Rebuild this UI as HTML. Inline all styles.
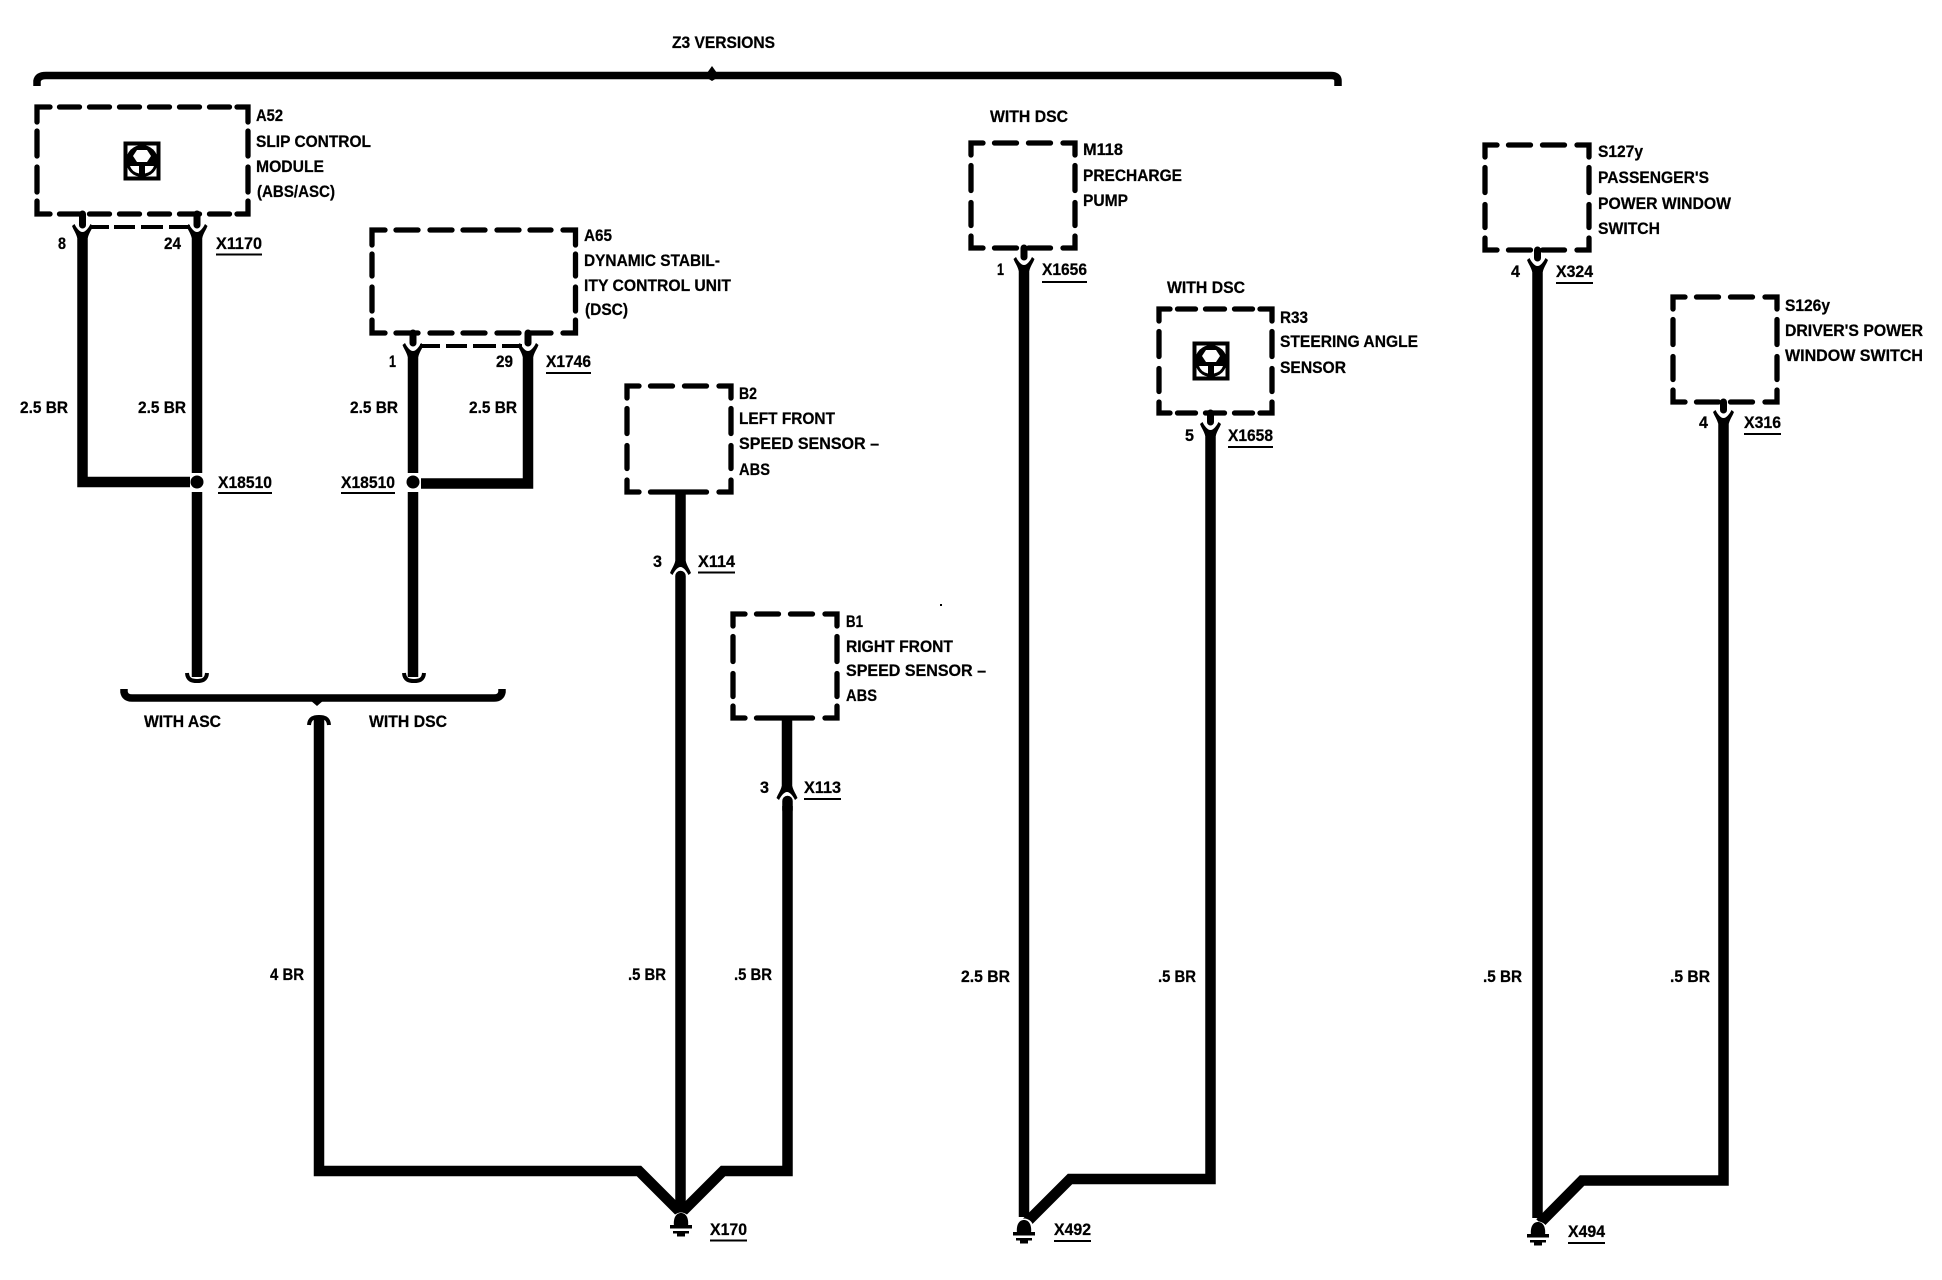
<!DOCTYPE html>
<html><head><meta charset="utf-8"><style>
html,body{margin:0;padding:0;background:#fff;width:1942px;height:1280px;overflow:hidden}
svg{display:block}
text{font-family:"Liberation Sans",sans-serif;font-weight:bold;font-size:17px;fill:#000;stroke:#000;stroke-width:.25}
.d{fill:none;stroke:#000;stroke-width:5.3;stroke-linecap:round;stroke-linejoin:miter}
.s{fill:none;stroke:#000;stroke-width:4}
.w{fill:none;stroke:#000;stroke-width:10.5;stroke-linejoin:miter}
.u{stroke:#000;stroke-width:2}
</style></head><body>
<svg width="1942" height="1280" viewBox="0 0 1942 1280" xmlns="http://www.w3.org/2000/svg">
<defs>
<path id="fork" d="M-10.5,-1 C-9,3 -7,5 -5.2,11 H5.2 C7,5 9,3 10.5,-1 L8,-3 C6,1 3,5 0,5 C-3,5 -6,1 -8,-3 Z"/>
<path id="tail" d="M-10,-7 C-9.5,0 -5,1 0,1 C5,1 9.5,0 10,-7" fill="none" stroke="#000" stroke-width="4"/>
<g id="wheel">
<rect x="-16.5" y="-17.5" width="33" height="35" fill="#fff" stroke="#000" stroke-width="4"/>
<circle cx="0" cy="0" r="16"/>
<path d="M-9,-5 L-5,-11 H5 L9,-5 L5,1 H-5Z" fill="#fff"/>
<path d="M-12,5 H-3 V12.5 Q-10,11 -12,5Z M12,5 H3 V12.5 Q10,11 12,5Z" fill="#fff"/>
</g>
<g id="gnd">
<path d="M-7,13 C-8,5 -5,0 0,0 C5,0 8,5 7,13Z" fill="#000"/>
<rect x="-11" y="12" width="22" height="3.5"/>
<rect x="-8" y="18" width="16" height="2.5"/>
<rect x="-4" y="20.5" width="8" height="3"/>
</g>
</defs>

<!-- top brace -->
<path d="M37,86 V81 Q38,75.500 46,75.500 H1331 Q1338,75.500 1338,81 V86" fill="none" stroke="#000" stroke-width="7.500"/>
<polygon points="707,73 712,66 717,73"/>
<polygon points="707,78 712,81 717,78"/>
<text x="672" y="48" textLength="103" lengthAdjust="spacingAndGlyphs">Z3 VERSIONS</text>

<!-- A52 -->
<path class="d" d="M37,122V107H50 M59.500,107H79.500 M89.500,107H109.500 M119.500,107H139.500 M149.500,107H169.500 M179.500,107H199.500 M209.500,107H229.500 M237,107H248V122
M248,131V156 M248,167V192 M248,201V214H237 M229.500,214H209.500 M199.500,214H179.500 M169.500,214H149.500 M139.500,214H119.500 M109.500,214H89.500 M79.500,214H59.500 M50,214H37V201 M37,192V167 M37,156V131"/>
<use href="#wheel" x="142" y="161"/>
<text x="256" y="121" textLength="27" lengthAdjust="spacingAndGlyphs">A52</text>
<text x="256" y="147" textLength="115" lengthAdjust="spacingAndGlyphs">SLIP CONTROL</text>
<text x="256" y="172" textLength="68" lengthAdjust="spacingAndGlyphs">MODULE</text>
<text x="257" y="197" textLength="78" lengthAdjust="spacingAndGlyphs">(ABS/ASC)</text>
<path d="M82.5,214V225 M197,214V225" stroke="#000" stroke-width="7" fill="none" stroke-linecap="round"/>
<path class="s" d="M90,227H109 M114,227H135 M141,227H163 M169,227H190"/>
<use href="#fork" x="82.5" y="227"/><use href="#fork" x="197" y="227"/>
<path class="w" d="M82.5,235 V482 H190"/>
<path class="w" d="M197,235 V473"/>
<circle cx="197" cy="482" r="6.5"/>
<path class="w" d="M197,492 V677"/>
<use href="#tail" x="197" y="680"/>
<text x="58" y="249" textLength="8" lengthAdjust="spacingAndGlyphs">8</text>
<text x="164" y="249" textLength="17" lengthAdjust="spacingAndGlyphs">24</text>
<text x="216" y="249" textLength="46" lengthAdjust="spacingAndGlyphs">X1170</text>
<line class="u" x1="216" y1="254.5" x2="262" y2="254.5"/>
<text x="20" y="413" textLength="48" lengthAdjust="spacingAndGlyphs">2.5 BR</text>
<text x="138" y="413" textLength="48" lengthAdjust="spacingAndGlyphs">2.5 BR</text>
<text x="218" y="488" textLength="54" lengthAdjust="spacingAndGlyphs">X18510</text>
<line class="u" x1="218" y1="493" x2="272" y2="493"/>

<!-- A65 -->
<path class="d" d="M372,245V230H385 M396,230H418 M430,230H452 M463,230H485 M497,230H519 M530,230H551 M563,230H575.5V245
M575.5,254V276 M575.5,287V311 M575.5,320V333H563 M551,333H530 M519,333H497 M485,333H463 M452,333H430 M418,333H396 M385,333H372V320 M372,311V287 M372,276V254"/>
<text x="584" y="241" textLength="28" lengthAdjust="spacingAndGlyphs">A65</text>
<text x="584" y="266" textLength="136" lengthAdjust="spacingAndGlyphs">DYNAMIC STABIL-</text>
<text x="584" y="291" textLength="147" lengthAdjust="spacingAndGlyphs">ITY CONTROL UNIT</text>
<text x="585" y="315" textLength="43" lengthAdjust="spacingAndGlyphs">(DSC)</text>
<path d="M413,333V343 M528,333V343" stroke="#000" stroke-width="7" fill="none" stroke-linecap="round"/>
<path class="s" d="M420,346H440 M446,346H467 M473,346H496 M502,346H522"/>
<use href="#fork" x="413" y="346"/><use href="#fork" x="528" y="346"/>
<path class="w" d="M413,354 V473"/>
<circle cx="413" cy="482" r="6.5"/>
<path class="w" d="M413,492 V677"/>
<use href="#tail" x="414" y="680"/>
<path class="w" d="M528,354 V483.5 H421"/>
<text x="389" y="367" textLength="7" lengthAdjust="spacingAndGlyphs">1</text>
<text x="496" y="367" textLength="17" lengthAdjust="spacingAndGlyphs">29</text>
<text x="546" y="367" textLength="45" lengthAdjust="spacingAndGlyphs">X1746</text>
<line class="u" x1="546" y1="373" x2="591" y2="373"/>
<text x="350" y="413" textLength="48" lengthAdjust="spacingAndGlyphs">2.5 BR</text>
<text x="469" y="413" textLength="48" lengthAdjust="spacingAndGlyphs">2.5 BR</text>
<text x="341" y="488" textLength="54" lengthAdjust="spacingAndGlyphs">X18510</text>
<line class="u" x1="341" y1="493" x2="395" y2="493"/>

<!-- lower brace -->
<path d="M124,689 V692 Q125,698 132,698 H494 Q501,698 502,692 V689" fill="none" stroke="#000" stroke-width="7.500"/>
<polygon points="310,700 324,700 317,706"/>
<text x="144" y="727" textLength="77" lengthAdjust="spacingAndGlyphs">WITH ASC</text>
<text x="369" y="727" textLength="78" lengthAdjust="spacingAndGlyphs">WITH DSC</text>
<use href="#tail" transform="translate(319,718) scale(1,-1)"/>

<!-- bottom left wiring -->
<path class="w" d="M319,718 V1171 H639 L681,1213"/>
<path class="w" d="M787.5,806 V1171 H723 L681,1213"/>
<path class="w" stroke-linecap="round" d="M787.5,801 V810"/>
<text x="270" y="980" textLength="34" lengthAdjust="spacingAndGlyphs">4 BR</text>
<text x="628" y="980" textLength="38" lengthAdjust="spacingAndGlyphs">.5 BR</text>
<text x="734" y="980" textLength="38" lengthAdjust="spacingAndGlyphs">.5 BR</text>

<!-- B2 -->
<path class="d" d="M627,398V386H639 M650.5,386H672.5 M684.5,386H706.5 M719,386H731V398 M731,408.5V433.5 M731,445.5V468.5 M731,480V492H719 M706.5,492H650.5 M639,492H627V480 M627,468.5V445.5 M627,433.5V408.5"/>
<text x="739" y="399" textLength="18" lengthAdjust="spacingAndGlyphs">B2</text>
<text x="739" y="424" textLength="96" lengthAdjust="spacingAndGlyphs">LEFT FRONT</text>
<text x="739" y="449" textLength="140" lengthAdjust="spacingAndGlyphs">SPEED SENSOR –</text>
<text x="739" y="475" textLength="31" lengthAdjust="spacingAndGlyphs">ABS</text>
<path class="w" d="M680.5,492 V562"/>
<use href="#fork" transform="translate(680.5,572) scale(1,-1)"/>
<path class="w" stroke-linecap="round" d="M680.5,576 V1212"/>
<text x="653" y="567" textLength="9" lengthAdjust="spacingAndGlyphs">3</text>
<text x="698" y="567" textLength="37" lengthAdjust="spacingAndGlyphs">X114</text>
<line class="u" x1="698" y1="572.5" x2="735" y2="572.5"/>

<!-- B1 -->
<path class="d" d="M733,626V614H745 M756.5,614H778.5 M790.5,614H812.5 M825,614H837V626 M837,636.5V661.5 M837,673.5V696.5 M837,706V718H825 M812.5,718H756.5 M745,718H733V706 M733,696.5V673.5 M733,661.5V636.5"/>
<text x="846" y="627" textLength="17" lengthAdjust="spacingAndGlyphs">B1</text>
<text x="846" y="652" textLength="107" lengthAdjust="spacingAndGlyphs">RIGHT FRONT</text>
<text x="846" y="676" textLength="140" lengthAdjust="spacingAndGlyphs">SPEED SENSOR –</text>
<text x="846" y="701" textLength="31" lengthAdjust="spacingAndGlyphs">ABS</text>
<path class="w" d="M787,718 V787"/>
<use href="#fork" transform="translate(787,797) scale(1,-1)"/>
<text x="760" y="793" textLength="9" lengthAdjust="spacingAndGlyphs">3</text>
<text x="804" y="793" textLength="37" lengthAdjust="spacingAndGlyphs">X113</text>
<line class="u" x1="804" y1="799" x2="841" y2="799"/>
<!-- ground X170 -->
<circle cx="681" cy="1222" r="9.5" fill="#fff"/>
<use href="#gnd" x="681" y="1213"/>
<text x="710" y="1235" textLength="37" lengthAdjust="spacingAndGlyphs">X170</text>
<line class="u" x1="710" y1="1240.5" x2="747" y2="1240.5"/>

<!-- M118 -->
<text x="990" y="122" textLength="78" lengthAdjust="spacingAndGlyphs">WITH DSC</text>
<path class="d" d="M971,155V143H983 M994.5,143H1016.5 M1028.5,143H1050.5 M1063,143H1075V155 M1075,165.5V190.5 M1075,202.5V225.5 M1075,236V248H1063 M1050.5,248H1028.5 M1016.5,248H994.5 M983,248H971V236 M971,225.5V202.5 M971,190.5V165.5"/>
<text x="1083" y="155" textLength="40" lengthAdjust="spacingAndGlyphs">M118</text>
<text x="1083" y="181" textLength="99" lengthAdjust="spacingAndGlyphs">PRECHARGE</text>
<text x="1083" y="206" textLength="45" lengthAdjust="spacingAndGlyphs">PUMP</text>
<path d="M1024,248V257" stroke="#000" stroke-width="7" fill="none" stroke-linecap="round"/>
<use href="#fork" x="1024" y="260"/>
<path class="w" d="M1024,268 V1217"/>
<path class="w" d="M1210.5,432 V1179 H1070 L1026,1223"/>
<text x="997" y="275" textLength="7" lengthAdjust="spacingAndGlyphs">1</text>
<text x="1042" y="275" textLength="45" lengthAdjust="spacingAndGlyphs">X1656</text>
<line class="u" x1="1042" y1="282" x2="1087" y2="282"/>
<text x="961" y="982" textLength="49" lengthAdjust="spacingAndGlyphs">2.5 BR</text>
<text x="1158" y="982" textLength="38" lengthAdjust="spacingAndGlyphs">.5 BR</text>
<circle cx="1024" cy="1228" r="9.5" fill="#fff"/>
<use href="#gnd" x="1024" y="1220"/>
<text x="1054" y="1235" textLength="37" lengthAdjust="spacingAndGlyphs">X492</text>
<line class="u" x1="1054" y1="1241" x2="1091" y2="1241"/>

<!-- R33 -->
<text x="1167" y="293" textLength="78" lengthAdjust="spacingAndGlyphs">WITH DSC</text>
<path class="d" d="M1159,321V309H1170 M1177.5,309H1195.5 M1205.5,309H1224.5 M1234.5,309H1252.5 M1260,309H1272V321 M1272,331.5V356.5 M1272,368.5V391.5 M1272,402V413H1260 M1252.5,413H1234.5 M1224.5,413H1205.5 M1195.5,413H1177.5 M1170,413H1159V402 M1159,391.5V368.5 M1159,356.5V331.5"/>
<use href="#wheel" x="1211" y="361"/>
<text x="1280" y="323" textLength="28" lengthAdjust="spacingAndGlyphs">R33</text>
<text x="1280" y="347" textLength="138" lengthAdjust="spacingAndGlyphs">STEERING ANGLE</text>
<text x="1280" y="373" textLength="66" lengthAdjust="spacingAndGlyphs">SENSOR</text>
<path d="M1210.5,413V422" stroke="#000" stroke-width="7" fill="none" stroke-linecap="round"/>
<use href="#fork" x="1210.5" y="425"/>
<text x="1185" y="441" textLength="9" lengthAdjust="spacingAndGlyphs">5</text>
<text x="1228" y="441" textLength="45" lengthAdjust="spacingAndGlyphs">X1658</text>
<line class="u" x1="1228" y1="447" x2="1273" y2="447"/>

<!-- S127y -->
<path class="d" d="M1485,157V145H1497 M1508.5,145H1530.5 M1542.5,145H1564.5 M1577,145H1589V157 M1589,167.5V192.5 M1589,204.5V227.5 M1589,238V250H1577 M1564.5,250H1542.5 M1530.5,250H1508.5 M1497,250H1485V238 M1485,227.5V204.5 M1485,192.5V167.5"/>
<text x="1598" y="157" textLength="45" lengthAdjust="spacingAndGlyphs">S127y</text>
<text x="1598" y="183" textLength="111" lengthAdjust="spacingAndGlyphs">PASSENGER'S</text>
<text x="1598" y="209" textLength="133" lengthAdjust="spacingAndGlyphs">POWER WINDOW</text>
<text x="1598" y="234" textLength="62" lengthAdjust="spacingAndGlyphs">SWITCH</text>
<path d="M1537.5,250V258" stroke="#000" stroke-width="7" fill="none" stroke-linecap="round"/>
<use href="#fork" x="1537.5" y="261"/>
<path class="w" d="M1537.5,269 V1218"/>
<path class="w" d="M1723.5,424 V1180.5 H1582 L1540,1223"/>
<text x="1511" y="277" textLength="9" lengthAdjust="spacingAndGlyphs">4</text>
<text x="1556" y="277" textLength="37" lengthAdjust="spacingAndGlyphs">X324</text>
<line class="u" x1="1556" y1="283" x2="1593" y2="283"/>
<text x="1483" y="982" textLength="39" lengthAdjust="spacingAndGlyphs">.5 BR</text>
<text x="1670" y="982" textLength="40" lengthAdjust="spacingAndGlyphs">.5 BR</text>
<circle cx="1538" cy="1231" r="9.5" fill="#fff"/>
<use href="#gnd" x="1538" y="1222"/>
<text x="1568" y="1237" textLength="37" lengthAdjust="spacingAndGlyphs">X494</text>
<line class="u" x1="1568" y1="1243" x2="1605" y2="1243"/>

<!-- S126y -->
<path class="d" d="M1673,309V297H1685 M1696.5,297H1718.5 M1730.5,297H1752.5 M1765,297H1777V309 M1777,319.5V344.5 M1777,356.5V379.5 M1777,390V402H1765 M1752.5,402H1730.5 M1718.5,402H1696.5 M1685,402H1673V390 M1673,379.5V356.5 M1673,344.5V319.5"/>
<text x="1785" y="311" textLength="45" lengthAdjust="spacingAndGlyphs">S126y</text>
<text x="1785" y="336" textLength="138" lengthAdjust="spacingAndGlyphs">DRIVER'S POWER</text>
<text x="1785" y="361" textLength="138" lengthAdjust="spacingAndGlyphs">WINDOW SWITCH</text>
<path d="M1723.5,402V410" stroke="#000" stroke-width="7" fill="none" stroke-linecap="round"/>
<use href="#fork" x="1723.5" y="413"/>
<text x="1699" y="428" textLength="9" lengthAdjust="spacingAndGlyphs">4</text>
<text x="1744" y="428" textLength="37" lengthAdjust="spacingAndGlyphs">X316</text>
<line class="u" x1="1744" y1="434" x2="1781" y2="434"/>

<rect x="940" y="604" width="2" height="2"/>
</svg>
</body></html>
